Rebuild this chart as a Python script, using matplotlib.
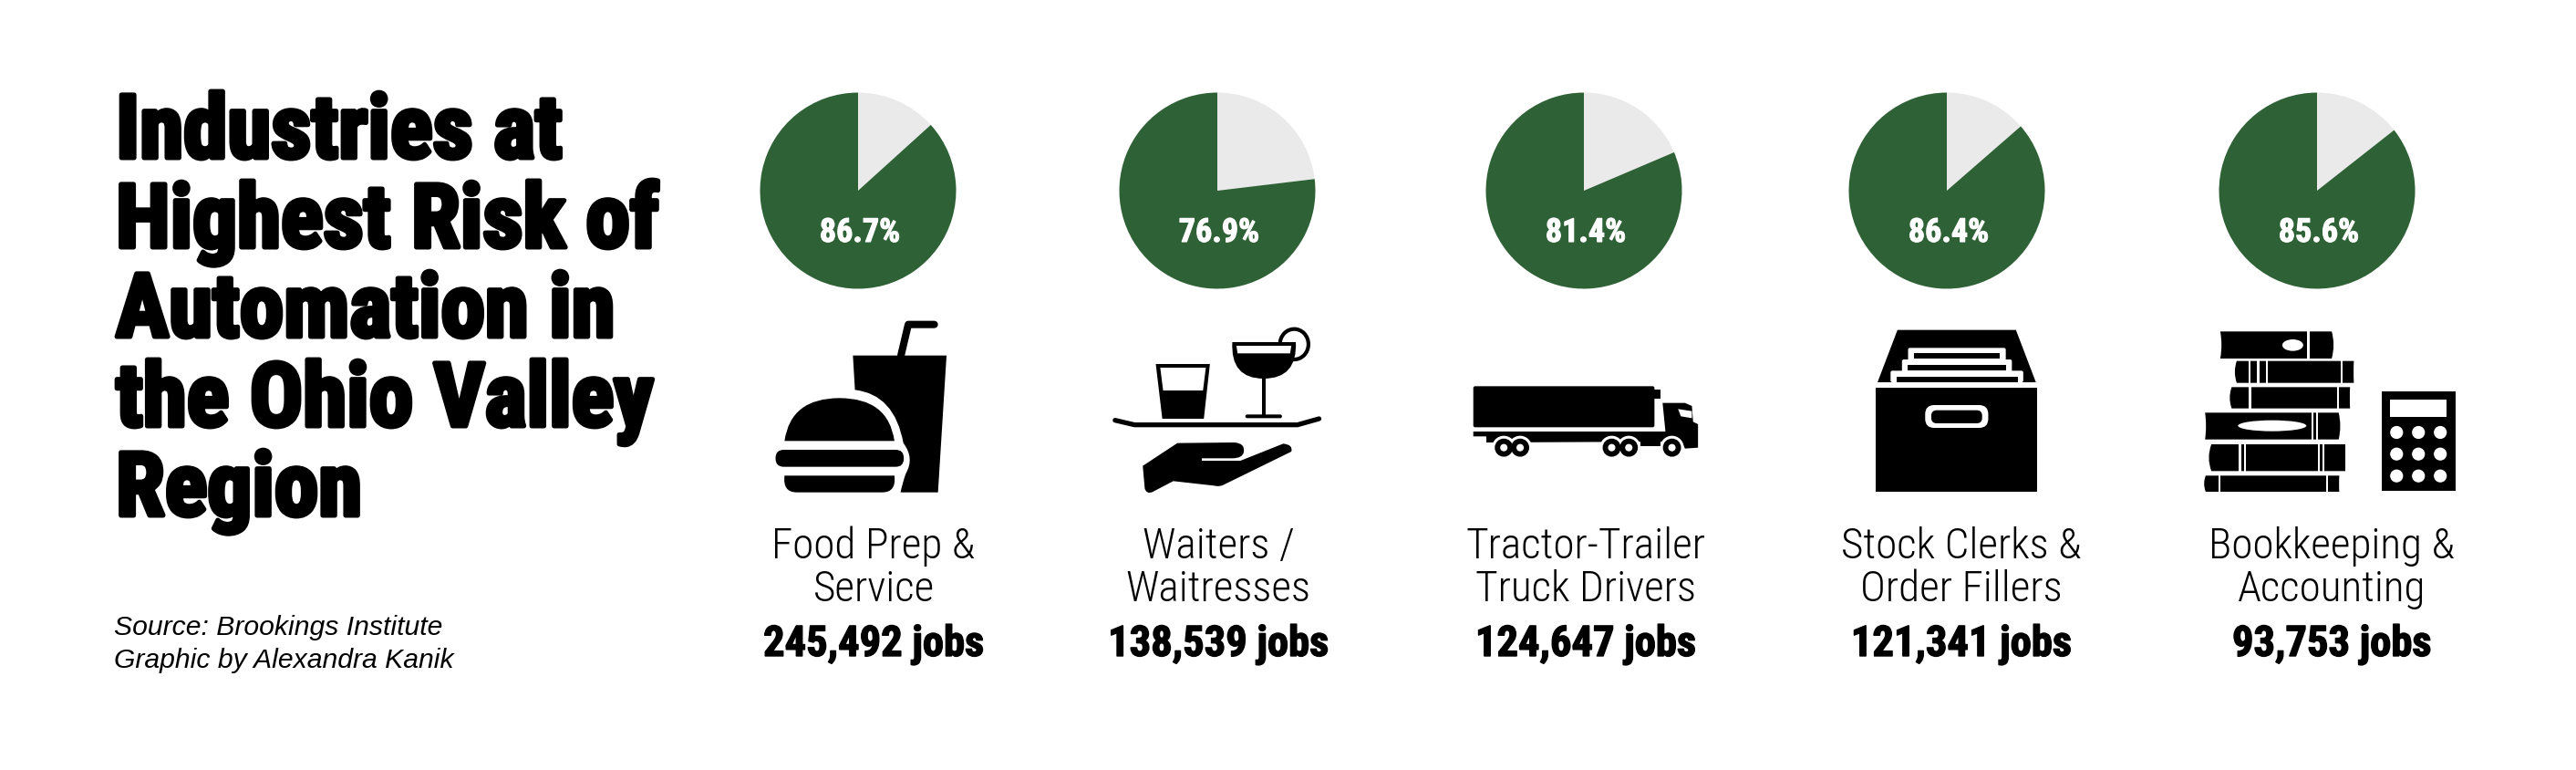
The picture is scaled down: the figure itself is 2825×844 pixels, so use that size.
import matplotlib
matplotlib.use("Agg")
import matplotlib.pyplot as plt
import matplotlib.patheffects as pe
from matplotlib.patches import Polygon, Ellipse, Circle, FancyBboxPatch, Rectangle, PathPatch
from matplotlib.path import Path

categories = [["Food Prep &", "Service"], ["Waiters /", "Waitresses"],
              ["Tractor-Trailer", "Truck Drivers"], ["Stock Clerks &", "Order Fillers"],
              ["Bookkeeping &", "Accounting"]]
risk_pct = [86.7, 76.9, 81.4, 86.4, 85.6]
jobs = [245492, 138539, 124647, 121341, 93753]

title_lines = ["Industries at", "Highest Risk of", "Automation in", "the Ohio Valley", "Region"]
source_lines = ["Source: Brookings Institute", "Graphic by Alexandra Kanik"]

GREEN = "#2e6236"
GRAY = "#eaeaea"
W, H = 2825, 845
NARROW = "Roboto Condensed"

pie_x = [941, 1335, 1737, 2135, 2541]
label_x = [958, 1336, 1739, 2151, 2557]
pie_y = 210
pie_r = 107.5

fig = plt.figure(figsize=(W / 100, H / 100), dpi=100, facecolor="white")

#pies
for cx, pct in zip(pie_x, risk_pct):
    ax = fig.add_axes([(cx - pie_r) / W, 1 - (pie_y + pie_r) / H, 2 * pie_r / W, 2 * pie_r / H])
    ax.pie([100 - pct, pct], colors=[GRAY, GREEN], startangle=90, counterclock=False, radius=1)
    ax.set_xlim(-1, 1)
    ax.set_ylim(-1, 1)

#overlay in pixel coords for text and icons
ov = fig.add_axes([0, 0, 1, 1])
ov.set_xlim(0, W)
ov.set_ylim(H, 0)
ov.axis("off")


def poly(pts, color="black", z=2):
    ov.add_patch(Polygon(pts, closed=True, facecolor=color, edgecolor="none", zorder=z))


def rbox(x0, y0, x1, y1, r, color="black", z=2):
    ov.add_patch(FancyBboxPatch((x0 + r, y0 + r), x1 - x0 - 2 * r, y1 - y0 - 2 * r,
                                boxstyle=f"round,pad={r},rounding_size={r}",
                                facecolor=color, edgecolor="none", zorder=z))


def rect(x0, y0, x1, y1, color="black", z=2):
    ov.add_patch(Rectangle((x0, y0), x1 - x0, y1 - y0, facecolor=color, edgecolor="none", zorder=z))


def z1(x, y):
    return (780 + x / 2.24, 340 + y / 3)


def z2(x, y):
    return (1580 + x / 2.24, 340 + y / 3)


def z3(x, y):
    return (2280 + x / 2.88, 340 + y / 3)


def curve(points, color="black", z=2):
    # points: start, then (ctrl, end) pairs
    verts = [points[0]]
    codes = [Path.MOVETO]
    for c, e in points[1:]:
        if c is None:
            verts.append(e)
            codes.append(Path.LINETO)
        else:
            verts += [c, e]
            codes += [Path.CURVE3, Path.CURVE3]
    verts.append(points[0])
    codes.append(Path.CLOSEPOLY)
    ov.add_patch(PathPatch(Path(verts, codes), facecolor=color, edgecolor="none", zorder=z))


def food_icon():
    # cup
    curve([z1(348, 152), (None, z1(578, 152)), (None, z1(557, 602)), (None, z1(465, 602)),
           (z1(470, 570), z1(478, 540)), (z1(500, 490), z1(472, 440)),
           (z1(450, 280), z1(353, 265))])
    # straw
    ov.plot(*zip(z1(466, 152), z1(484, 50), z1(548, 50)), color="black", lw=5.8,
            solid_capstyle="round", solid_joinstyle="round", zorder=2)
    # burger
    curve([z1(180, 433), (z1(195, 292), z1(315, 292)), (z1(435, 292), z1(450, 433))])
    rbox(*z1(158, 462), *z1(473, 518), 9)
    curve([z1(180, 547), (None, z1(450, 547)), (z1(455, 602), z1(420, 602)),
           (None, z1(210, 602)), (z1(175, 602), z1(180, 547))])


def waiter_icon():
    poly([z1(1092, 180), z1(1225, 180), z1(1210, 360), z1(1108, 360)])
    poly([z1(1103, 192), z1(1215, 192), z1(1208, 267), z1(1110, 267)], "white", 3)
    # cocktail
    ov.add_patch(Ellipse(z1(1432, 115), 70 / 2.24, 100 / 3, facecolor="white", edgecolor="black", lw=3, zorder=2))
    curve([z1(1280, 108), (None, z1(1436, 108)), (z1(1440, 228), z1(1357, 228)),
           (z1(1275, 228), z1(1280, 108))], z=3)
    poly([z1(1290, 120), z1(1425, 120), z1(1422, 145), z1(1293, 145)], "white", 4)
    rect(*z1(1352, 225), *z1(1362, 350), z=3)
    rbox(*z1(1312, 346), *z1(1402, 358), 2)
    # tray
    ov.plot(*zip(z1(992, 365), z1(1040, 380), z1(1440, 380), z1(1493, 360)), color="black", lw=3.8,
            solid_capstyle="round", solid_joinstyle="round", zorder=2)
    # hand
    curve([z1(1060, 515), (None, z1(1145, 440)), (None, z1(1285, 438)), (z1(1312, 440), z1(1308, 470)),
           (z1(1305, 490), z1(1280, 490)), (None, z1(1205, 490)), (None, z1(1205, 498)), (None, z1(1300, 498)),
           (None, z1(1405, 442)), (z1(1430, 445), z1(1425, 468)), (None, z1(1262, 575)),
           (z1(1250, 585), z1(1235, 580)), (None, z1(1135, 565)), (None, z1(1085, 600)),
           (z1(1070, 610), z1(1065, 590))])


def truck_icon():
    # trailer
    rbox(*z2(80, 253), *z2(525, 388), 2)
    rect(*z2(520, 265), *z2(540, 295))
    # chassis and cab
    poly([z2(80, 402), z2(552, 402), z2(545, 308), z2(600, 308), z2(617, 318), z2(620, 370), z2(632, 378),
          z2(632, 455), z2(600, 458), z2(592, 435), z2(112, 438), z2(112, 418), z2(80, 418)])
    poly([z2(583, 328), z2(617, 335), z2(617, 358), z2(590, 352)], "white", 3)
    # wheels
    for wx in [155, 195, 420, 462, 568]:
        c = z2(wx, 455)
        ov.add_patch(Circle(c, 13, facecolor="white", edgecolor="none", zorder=3))
    for wx in [155, 195, 420, 462, 568]:
        c = z2(wx, 455)
        ov.add_patch(Circle(c, 7, facecolor="white", edgecolor="black", lw=4.2, zorder=4))
    rect(*z2(490, 428), *z2(540, 450), z=4)


def box_icon():
    rect(*z2(1069, 258), *z2(1466, 600))
    rbox(*z2(1190, 315), *z2(1345, 390), 10, "white", 3)
    rbox(*z2(1205, 332), *z2(1330, 375), 6, "black", 4)
    poly([z2(1122, 68), z2(1413, 68), z2(1462, 240), z2(1073, 240)])
    rbox(*z2(1148, 127), *z2(1388, 200), 2, "white", 3)
    rect(*z2(1162, 145), *z2(1374, 163), z=4)
    rbox(*z2(1133, 165), *z2(1403, 220), 2, "white", 5)
    rect(*z2(1147, 183), *z2(1389, 201), z=6)
    rbox(*z2(1105, 202), *z2(1431, 240), 2, "white", 7)
    rect(*z2(1119, 221), *z2(1417, 240), z=8)


def book(x0, y0, x1, y1, left, right, gaps, hole=None):
    ym = (y0 + y1) / 2
    curve([z3(x0, y0), (None, z3(x1, y0)), (z3(x1 + right, ym), z3(x1, y1)), (None, z3(x0, y1)),
           (z3(x0 + left, ym), z3(x0, y0))])
    for g0, g1 in gaps:
        rect(*z3(g0, y0 - 1), *z3(g1, y1 + 1), "white", 3)
    if hole:
        ov.add_patch(Ellipse(z3(hole[0], hole[1]), 2 * hole[2] / 2.88, 2 * hole[3] / 3,
                             facecolor="white", edgecolor="none", zorder=3))


def books_icon():
    book(446, 73, 798, 162, 8, 12, [(721, 728)], (675, 118, 33, 19))
    book(498, 170, 868, 242, -12, -2, [(535, 542), (562, 570), (591, 597), (826, 832)])
    book(482, 256, 856, 326, -12, -2, [(536, 543), (815, 822)])
    book(398, 340, 820, 428, 6, 10, [(733, 740), (748, 754)], (610, 383, 108, 18))
    book(418, 444, 841, 532, -16, 0, [(505, 512), (522, 528), (754, 760), (770, 776)])
    book(400, 547, 822, 600, -10, -2, [(440, 446), (781, 787)])
    # calculator
    rect(*z3(955, 270), *z3(1190, 598))
    rect(*z3(983, 298), *z3(1162, 355), "white", 3)
    for by in [405, 476, 548]:
        for bx in [1003, 1072, 1141]:
            ov.add_patch(Circle(z3(bx, by), 7.1, facecolor="white", edgecolor="none", zorder=3))


food_icon()
waiter_icon()
truck_icon()
box_icon()
books_icon()

#title, thickened with a stroke
title_y = [174, 272, 370, 468, 566]
for line, y in zip(title_lines, title_y):
    ov.text(127, y, line, family=NARROW, weight="bold", fontsize=70, color="black",
            va="baseline", ha="left", zorder=10,
            path_effects=[pe.withStroke(linewidth=3.6, foreground="black")])

for line, y in zip(source_lines, [696, 732]):
    ov.text(125, y, line, family="Liberation Sans", style="italic", fontsize=21.7, color="black",
            va="baseline", ha="left", zorder=10)

#labels
for cx, lx, pct, cat, n in zip(pie_x, label_x, risk_pct, categories, jobs):
    ov.text(cx + 2, 266, f"{pct}%", family=NARROW, weight="bold", fontsize=26, color="white",
            ha="center", va="baseline", zorder=10,
            path_effects=[pe.withStroke(linewidth=0.8, foreground="white")])
    ov.text(lx, 612, cat[0], family=NARROW, weight=300, fontsize=34, color="black",
            ha="center", va="baseline", zorder=10)
    ov.text(lx, 659, cat[1], family=NARROW, weight=300, fontsize=34, color="black",
            ha="center", va="baseline", zorder=10)
    ov.text(lx, 720, f"{n:,} jobs", family=NARROW, weight="bold", fontsize=33.5, color="black",
            ha="center", va="baseline", zorder=10,
            path_effects=[pe.withStroke(linewidth=1, foreground="black")])

fig.savefig("out.png", dpi=100)
